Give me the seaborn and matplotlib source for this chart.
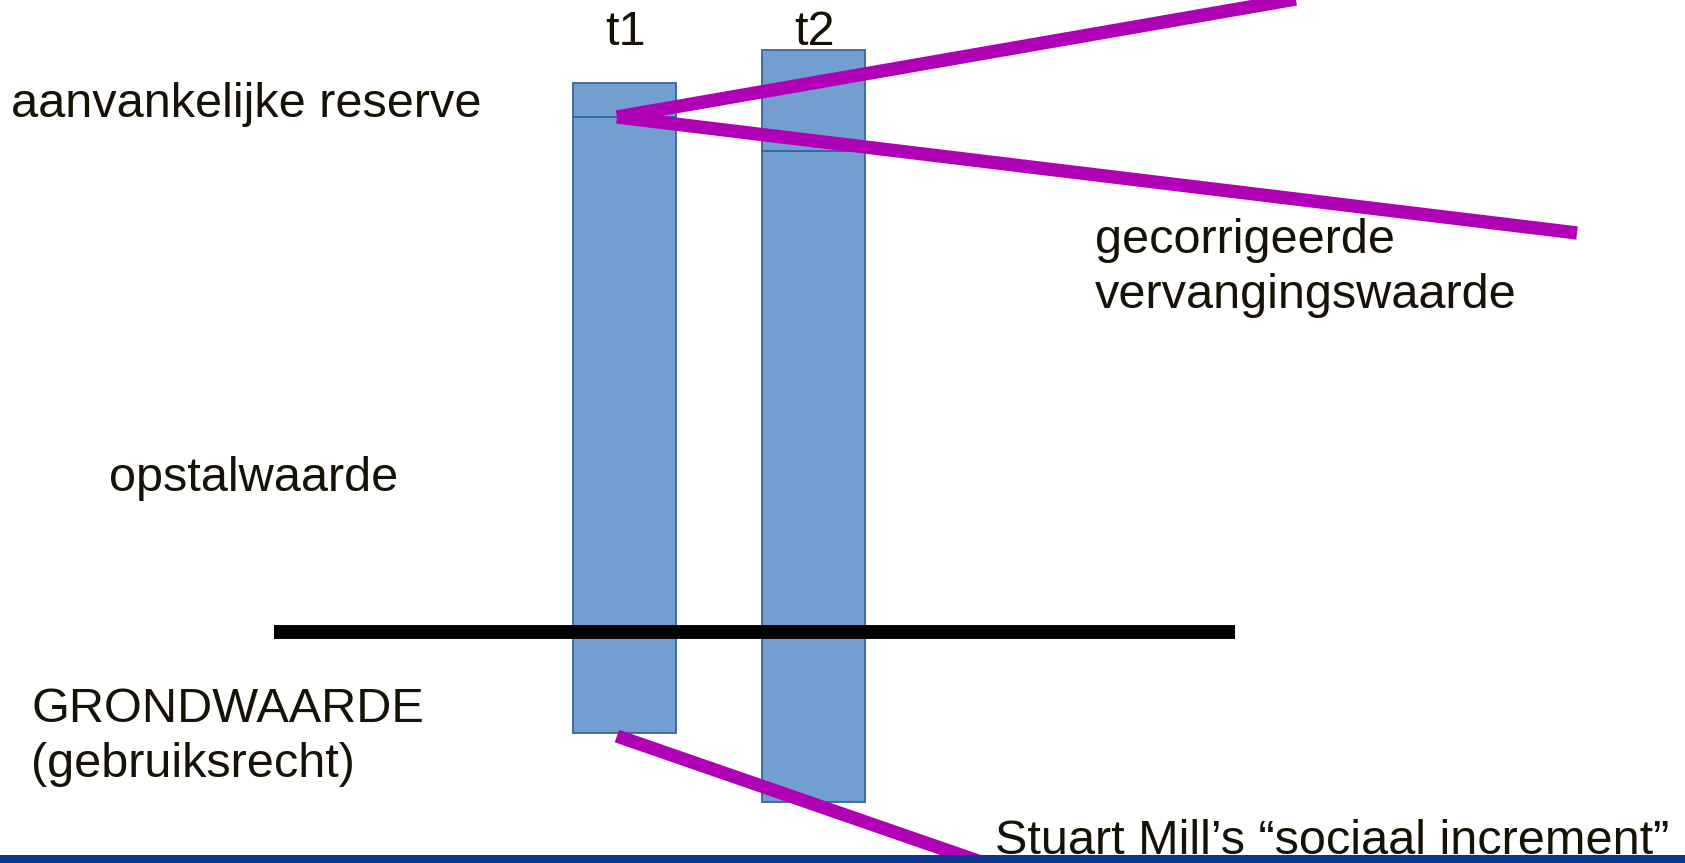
import matplotlib
matplotlib.use("Agg")
import matplotlib.pyplot as plt
import seaborn as sns

# data (value units: ground line = 0)
categories = ["t1", "t2"]
grond_bottom = [-1.01, -1.70]   # bottom of bar (grondwaarde below ground line)
opstal_top = [5.15, 4.81]       # boundary opstal / reserve
reserve_top = [5.49, 5.82]      # top of bar

labels_left = ["aanvankelijke reserve", "opstalwaarde", "GRONDWAARDE", "(gebruiksrecht)"]
label_right = ["gecorrigeerde", "vervangingswaarde"]
label_bottom = "Stuart Mill\u2019s \u201csociaal increment\u201d"

# style
bar_face = "#729fcf"
bar_edge = "#3465a4"
magenta = "#b000b6"
band_blue = "#0a3891"
text_col = "#161208"

W, H = 1685, 863
sns.set_style("white")
plt.rcParams["font.family"] = ["Liberation Sans", "DejaVu Sans"]

fig = plt.figure(figsize=(W / 100, H / 100), dpi=100)
ax = fig.add_axes([0, 0, 1, 1])

# stacked floating bars
lower_h = [o - g for o, g in zip(opstal_top, grond_bottom)]
upper_h = [r - o for r, o in zip(reserve_top, opstal_top)]
sns.barplot(x=categories, y=lower_h, bottom=grond_bottom, order=categories,
            color=bar_face, saturation=1, width=0.545, errorbar=None,
            edgecolor=bar_edge, linewidth=1.3, ax=ax, zorder=1)
sns.barplot(x=categories, y=upper_h, bottom=opstal_top, order=categories,
            color=bar_face, saturation=1, width=0.545, errorbar=None,
            edgecolor=bar_edge, linewidth=1.3, ax=ax, zorder=1)

# ground line
ax.hlines(0, -1.855, 3.23, color="black", lw=10, capstyle="butt", zorder=3)

# magenta pointer lines from t1
x0 = -0.04
ax.plot([x0, 4.10], [opstal_top[0], 6.51], color=magenta, lw=9.6,
        solid_capstyle="butt", zorder=3)
ax.plot([x0, 5.04], [opstal_top[0], 3.99], color=magenta, lw=9.6,
        solid_capstyle="butt", zorder=3)
ax.plot([x0, 2.16], [grond_bottom[0] - 0.03, -2.48], color=magenta, lw=9.6,
        solid_capstyle="butt", zorder=3)

ax.set_xlim(-624.5 / 189, (W - 624.5) / 189)
ax.set_ylim((632 - H) / 100, 632 / 100)
ax.axhspan((632 - H) / 100 - 0.1, (632 - 855) / 100, color=band_blue, lw=0, zorder=4)
ax.axis("off")

fs = 35
def put(txt, x, y, ha="left"):
    fig.text(x / W, 1 - y / H, txt, fontsize=fs, color=text_col, ha=ha,
             va="baseline", zorder=6)

put(categories[0], 626, 45, ha="center")
put(categories[1], 815, 45, ha="center")
put(labels_left[0], 11, 117)
put(labels_left[1], 109, 491)
put(labels_left[2], 32, 722)
put(labels_left[3], 31, 777)
put(label_right[0], 1095, 253)
put(label_right[1], 1095, 308)
put(label_bottom, 995, 854)

fig.savefig("out.png", dpi=100)
